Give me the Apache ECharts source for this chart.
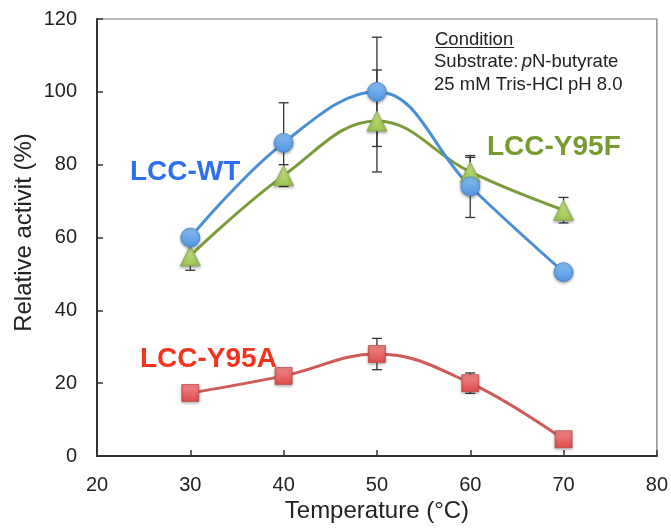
<!DOCTYPE html>
<html>
<head>
<meta charset="utf-8">
<script src="https://cdn.jsdelivr.net/npm/echarts@6/dist/echarts.min.js"></script>
<style>
  html, body { margin: 0; padding: 0; background: #fff; }
  #main { width: 671px; height: 532px; }
</style>
</head>
<body>
<div id="main"></div>
<script>
// temperature (°C)
const temps = [30, 40, 50, 60, 70];
// relative activity (%) and error (±)
const wtValues = [60, 86, 100, 74, 50.5];
const wtErrors = [0, 11, 15, 8.5, 2];
const y95fValues = [55, 77, 92, 78, 67.5];
const y95fErrors = [4, 3, 14, 4, 3.5];
const y95aValues = [17.3, 22, 28, 20, 4.6];
const y95aErrors = [0, 0, 4.3, 2.8, 0];
const yTicks = [0, 20, 40, 60, 80, 100, 120];
const xTicks = [20, 30, 40, 50, 60, 70, 80];

const font = 'Liberation Sans, Arial, sans-serif';

function pairs(vals) {
    return temps.map((t, i) => [t, vals[i]]);
}

function errData(vals, errs) {
    return temps.map((t, i) => [t, vals[i] - errs[i], vals[i] + errs[i]]);
}

function errSeries(vals, errs) {
    return {
        type: 'custom',
        z: 1,
        silent: true,
        data: errData(vals, errs),
        renderItem: function (params, api) {
            if (api.value(2) - api.value(1) <= 0) return;
            let lo = api.coord([api.value(0), api.value(1)]);
            let hi = api.coord([api.value(0), api.value(2)]);
            let w = 5;
            let st = { stroke: '#333', lineWidth: 1.3 };
            return {
                type: 'group',
                children: [
                    { type: 'line', shape: { x1: lo[0], y1: lo[1], x2: hi[0], y2: hi[1] }, style: st },
                    { type: 'line', shape: { x1: lo[0] - w, y1: lo[1], x2: lo[0] + w, y2: lo[1] }, style: st },
                    { type: 'line', shape: { x1: hi[0] - w, y1: hi[1], x2: hi[0] + w, y2: hi[1] }, style: st }
                ]
            };
        }
    };
}

function grad(top, bottom) {
    return new echarts.graphic.LinearGradient(0, 0, 0, 1, [
        { offset: 0, color: top },
        { offset: 1, color: bottom }
    ]);
}

function lineSeries(name, vals, lineColor, symbol, size, fillTop, fillBottom, edge) {
    return {
        name: name,
        type: 'line',
        z: 3,
        smooth: 0.4,
        data: pairs(vals),
        symbol: symbol,
        symbolSize: size,
        showAllSymbol: true,
        lineStyle: { color: lineColor, width: 3 },
        itemStyle: {
            color: grad(fillTop, fillBottom),
            borderColor: edge,
            borderWidth: 0.8,
            shadowColor: 'rgba(0,0,0,0.35)',
            shadowBlur: 3,
            shadowOffsetY: 1.5
        },
        emphasis: { disabled: true }
    };
}

function label(text, x, y, size, color, extra) {
    return {
        type: 'text', x: x, y: y,
        style: Object.assign({
            text: text,
            font: size + 'px ' + font,
            fill: color,
            align: 'left',
            verticalAlign: 'middle'
        }, extra || {})
    };
}

let option = {
    animation: false,
    backgroundColor: '#fff',
    grid: {
        left: 97, right: 11, top: 19, bottom: 76,
        show: true, borderColor: '#777', borderWidth: 1.2
    },
    xAxis: {
        type: 'value',
        min: 20, max: 80, interval: 10,
        name: 'Temperature (°C)',
        nameLocation: 'middle',
        nameGap: 43,
        nameMoveOverlap: false,
        nameTextStyle: { fontFamily: font, fontSize: 24, color: '#222' },
        axisLine: { show: true, lineStyle: { color: '#333', width: 2 } },
        axisTick: { show: true, inside: true, length: 6, lineStyle: { color: '#333', width: 1.5 } },
        axisLabel: {
            margin: 19, fontFamily: font, fontSize: 20, color: '#222',
            formatter: v => xTicks.includes(v) ? String(v) : ''
        },
        splitLine: { show: false }
    },
    yAxis: {
        type: 'value',
        min: 0, max: 120, interval: 20,
        name: 'Relative activit (%)',
        nameLocation: 'middle',
        nameGap: 61,
        nameMoveOverlap: false,
        nameTextStyle: { fontFamily: font, fontSize: 24, color: '#222', padding: [0, 0, 0, 10] },
        axisLine: { show: true, lineStyle: { color: '#333', width: 2 } },
        axisTick: { show: true, inside: true, length: 6, lineStyle: { color: '#333', width: 1.5 } },
        axisLabel: {
            margin: 20, fontFamily: font, fontSize: 20, color: '#222',
            formatter: v => yTicks.includes(v) ? String(v) : ''
        },
        splitLine: { show: false }
    },
    series: [
        errSeries(wtValues, wtErrors),
        errSeries(y95fValues, y95fErrors),
        errSeries(y95aValues, y95aErrors),
        lineSeries('LCC-Y95A', y95aValues, '#d05a58', 'rect', 17, '#f28a88', '#de4c4a', '#c84848'),
        lineSeries('LCC-Y95F', y95fValues, '#7c9c3c', 'triangle', 20, '#c8e486', '#9cc454', '#8aaa48'),
        lineSeries('LCC-WT', wtValues, '#4a8fd6', 'circle', 19, '#8ac0f4', '#4f92e0', '#4a86cc')
    ],
    graphic: [
        label('LCC-WT', 130, 172, 'bold 28', '#2e6ef0'),
        label('LCC-Y95F', 487, 147, 'bold 28', '#789a30'),
        label('LCC-Y95A', 140, 359, 'bold 28', '#f5321e'),
        label('Condition', 435, 40, 18.5, '#222'),
        { type: 'line', shape: { x1: 435, y1: 47.5, x2: 514, y2: 47.5 }, style: { stroke: '#222', lineWidth: 1 } },
        {
            type: 'text', x: 434, y: 62,
            style: {
                text: '{n|Substrate:} {i|p}{n|N-butyrate}',
                verticalAlign: 'middle',
                rich: {
                    n: { font: '18.5px ' + font, fill: '#222' },
                    i: { font: 'italic 18.5px ' + font, fill: '#222' }
                }
            }
        },
        label('25 mM Tris-HCl pH 8.0', 434, 85, 18.5, '#222')
    ]
};

echarts.init(document.getElementById('main')).setOption(option);
</script>
</body>
</html>
